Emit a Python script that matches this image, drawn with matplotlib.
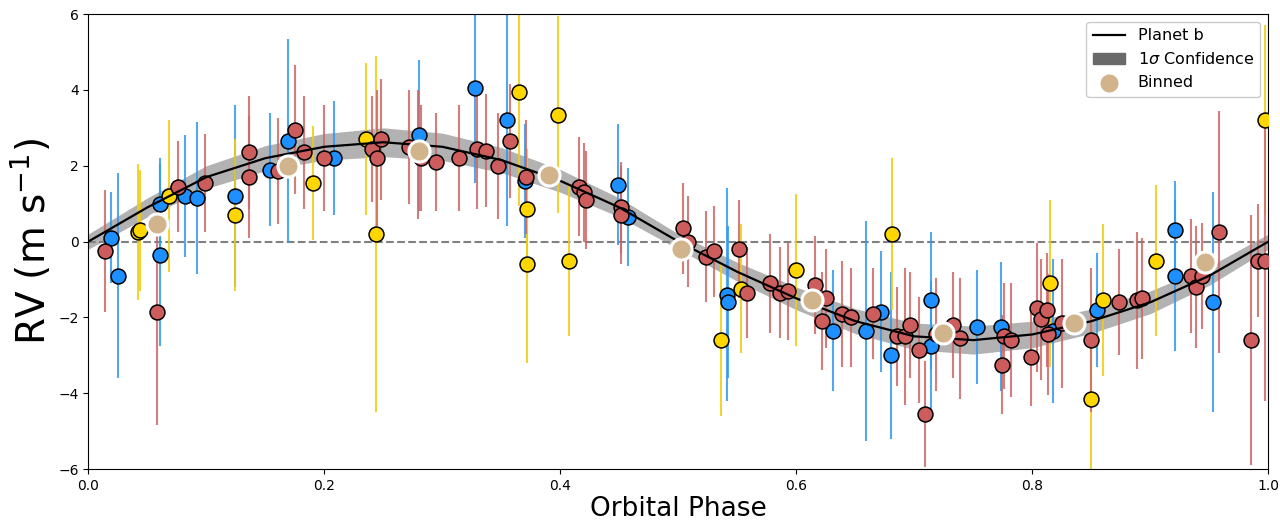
import numpy as np
import matplotlib
matplotlib.use("Agg")
import matplotlib.pyplot as plt

model_phase = [0,0.05,0.1,0.15,0.2,0.25,0.3,0.35,0.4,0.45,0.5,0.55,0.6,0.65,0.7,0.75,0.8,0.85,0.9,0.95,1.0]
model_rv = [0,0.9,1.7,2.2,2.5,2.62,2.5,2.15,1.6,0.9,0.0,-0.8,-1.5,-2.1,-2.5,-2.6,-2.45,-2.1,-1.6,-0.9,0]
model_sig = [0.2,0.25,0.3,0.33,0.35,0.38,0.36,0.33,0.3,0.25,0.2,0.25,0.3,0.33,0.35,0.37,0.35,0.32,0.3,0.25,0.2]

blue_phase = [0.019,0.025,0.061,0.061,0.082,0.092,0.124,0.154,0.169,0.208,0.28,0.328,0.355,0.37,0.449,0.457,0.541,0.542,0.631,0.659,0.672,0.68,0.714,0.714,0.753,0.773,0.817,0.855,0.921,0.921,0.953]
blue_rv = [0.1,-0.9,1.0,-0.35,1.2,1.15,1.2,1.9,2.65,2.2,2.8,4.05,3.2,1.6,1.5,0.65,-1.4,-1.6,-2.35,-2.35,-1.85,-3.0,-1.55,-2.75,-2.25,-2.25,-2.35,-1.8,0.3,-0.9,-1.6]
blue_err = [1.2,2.7,1.2,2.4,1.6,2.0,2.4,1.5,2.7,1.5,2.0,2.5,2.8,1.5,1.6,1.3,2.8,2.0,1.6,2.9,1.6,2.2,1.8,1.7,1.5,1.7,1.9,1.5,1.3,2.0,2.9]

gold_phase = [0.042,0.044,0.068,0.124,0.19,0.235,0.244,0.365,0.372,0.372,0.398,0.407,0.536,0.553,0.6,0.681,0.815,0.85,0.86,0.905,0.997]
gold_rv = [0.25,0.3,1.2,0.7,1.55,2.7,0.2,3.95,0.85,-0.6,3.35,-0.5,-2.6,-1.25,-0.75,0.2,-1.1,-4.15,-1.55,-0.5,3.2]
gold_err = [1.8,1.6,2.0,2.0,1.5,2.0,4.7,3.0,1.6,2.6,2.6,2.0,2.0,1.7,2.0,2.0,2.2,2.2,2.0,2.0,2.5]

red_phase = [0.014,0.058,0.076,0.099,0.136,0.136,0.161,0.175,0.183,0.2,0.24,0.245,0.248,0.272,0.279,0.282,0.295,0.314,0.329,0.337,0.347,0.357,0.371,0.416,0.42,0.422,0.451,0.451,0.504,0.508,0.523,0.53,0.551,0.558,0.578,0.586,0.593,0.616,0.622,0.625,0.639,0.646,0.665,0.685,0.692,0.696,0.704,0.709,0.718,0.733,0.739,0.774,0.776,0.782,0.799,0.804,0.807,0.812,0.813,0.825,0.85,0.873,0.889,0.893,0.934,0.939,0.944,0.958,0.985,0.991,0.997]
red_rv = [-0.25,-1.85,1.45,1.55,1.7,2.35,1.85,2.95,2.35,2.2,2.45,2.2,2.7,2.5,2.3,2.2,2.1,2.2,2.45,2.4,2.0,2.65,1.7,1.45,1.3,1.1,0.9,0.7,0.35,0.0,-0.4,-0.25,-0.2,-1.35,-1.1,-1.35,-1.3,-1.15,-2.1,-1.5,-1.9,-2.0,-1.9,-2.5,-2.5,-2.2,-2.85,-4.55,-2.45,-2.2,-2.55,-3.25,-2.5,-2.6,-3.05,-1.75,-2.05,-1.8,-2.45,-2.15,-2.6,-1.6,-1.55,-1.5,-0.9,-1.2,-0.9,0.25,-2.6,-0.5,-0.5]
red_err = [1.6,3.0,1.2,1.3,1.6,1.5,1.4,1.7,1.5,1.4,1.4,1.8,1.6,1.5,1.7,1.4,1.3,1.4,1.6,1.5,1.4,1.5,1.5,1.3,1.3,1.3,1.2,1.3,1.2,1.2,1.2,1.2,1.3,1.2,1.3,1.2,1.3,1.3,1.3,1.3,1.4,1.3,1.2,1.3,1.8,1.4,1.4,1.4,1.5,1.4,1.6,1.3,1.4,1.5,1.3,1.7,1.6,1.5,1.6,1.7,1.9,1.4,1.8,1.6,1.5,1.6,1.4,3.2,3.3,1.5,3.7]

bin_phase = [0.058,0.169,0.28,0.39,0.502,0.613,0.724,0.835,0.946]
bin_rv = [0.45,2.0,2.4,1.75,-0.2,-1.55,-2.4,-2.15,-0.55]

fig = plt.figure(figsize=(12.8,5.22), dpi=100)
ax = fig.add_axes([0.069,0.1015,0.922,0.8715])

mp = np.array(model_phase); mr = np.array(model_rv); ms = np.array(model_sig)
ax.axhline(0, color='grey', ls='--', lw=1.5, zorder=1)
ax.fill_between(mp, mr-ms, mr+ms, color='grey', alpha=0.6, lw=0, zorder=1)

for ph, rv, er, c, ec in [(blue_phase,blue_rv,blue_err,'#1E8FFF','#3399ee'),
                          (gold_phase,gold_rv,gold_err,'#FFD700','#f0cc10'),
                          (red_phase,red_rv,red_err,'#CD5C5C','#cd6666')]:
    ax.errorbar(ph, rv, yerr=er, fmt='none', ecolor=ec, elinewidth=1.5, alpha=0.85, zorder=2)
    ax.scatter(ph, rv, s=115, c=c, edgecolors='black', linewidths=1.1, zorder=3)

ax.plot(mp, mr, color='black', lw=1.6, zorder=4, label='Planet b')
ax.fill_between([], [], [], color='dimgrey', label=r'1$\sigma$ Confidence')
ax.scatter(bin_phase, bin_rv, s=230, c='#D2B48C', edgecolors='white', linewidths=2.2, zorder=5, label='Binned')

ax.set_xlim(0,1); ax.set_ylim(-6,6)
ax.set_xticks([0,0.2,0.4,0.6,0.8,1.0])
ax.set_yticks([-6,-4,-2,0,2,4,6])
ax.tick_params(labelsize=10)
ax.set_xlabel('Orbital Phase', fontsize=19, labelpad=2)
ax.set_ylabel(r'RV (m s$^{-1}$)', fontsize=28)
ax.legend(loc='upper right', fontsize=11.5, framealpha=1)
fig.savefig('out.png', dpi=100)
